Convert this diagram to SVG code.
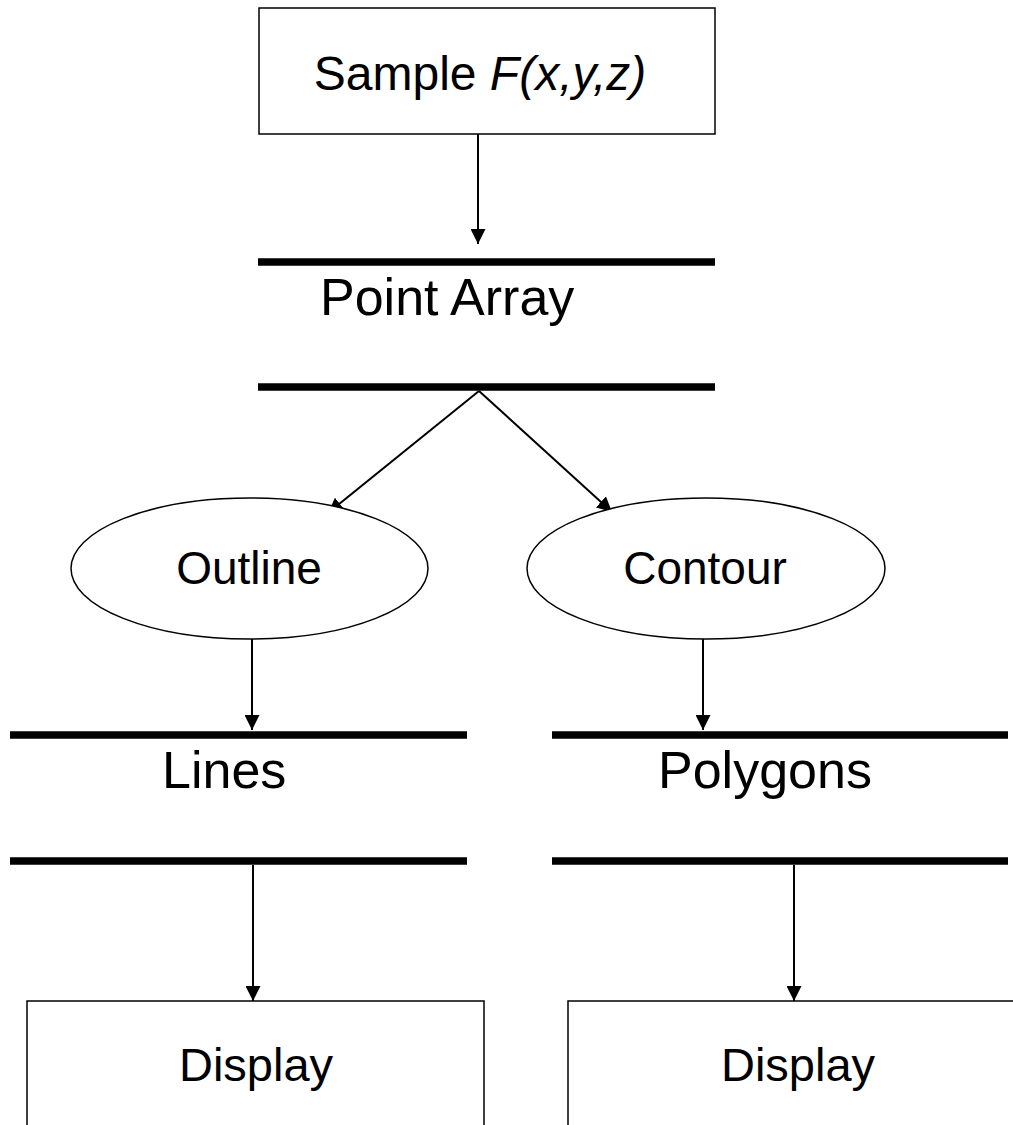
<svg xmlns="http://www.w3.org/2000/svg" width="1013" height="1125" viewBox="0 0 1013 1125">
  <style>
    .box { fill: #fff; stroke: #000; stroke-width: 1.5; }
    .store { stroke: #000; stroke-width: 7.5; }
    .proc { fill: #fff; stroke: #000; stroke-width: 1.5; }
    .conn { stroke: #000; stroke-width: 2; fill: none; marker-end: url(#arrow); }
    text { font-family: "Liberation Sans", Arial, sans-serif; fill: #000; }
    .lbl { font-size: 52px; }
    .small { font-size: 46px; }
  </style>
  <defs>
    <marker id="arrow" markerUnits="userSpaceOnUse" markerWidth="15" markerHeight="15" refX="15" refY="7.5" orient="auto">
      <path d="M0,0 L15,7.5 L0,15 z" fill="#000"/>
    </marker>
  </defs>
  <rect width="1013" height="1125" fill="#fff"/>

  <!-- connectors -->
  <g id="connectors">
    <line class="conn" x1="478" y1="134" x2="478" y2="244"/>
    <line class="conn" x1="479" y1="391" x2="328" y2="513"/>
    <line class="conn" x1="479" y1="391" x2="612" y2="512"/>
    <line class="conn" x1="252" y1="639" x2="252" y2="730"/>
    <line class="conn" x1="703" y1="639" x2="703" y2="730"/>
    <line class="conn" x1="253" y1="865" x2="253" y2="1001"/>
    <line class="conn" x1="794" y1="865" x2="794" y2="1001"/>
  </g>

  <!-- sampling step -->
  <g id="sample">
    <rect class="box" x="259" y="8" width="456" height="126"/>
    <text x="480" y="90" font-size="48" text-anchor="middle">Sample <tspan font-style="italic">F(x,y,z)</tspan></text>
  </g>

  <!-- point array data store -->
  <g id="point-array">
    <line class="store" x1="258" y1="262" x2="715" y2="262"/>
    <line class="store" x1="258" y1="387" x2="715" y2="387"/>
    <text class="lbl" x="320" y="315">Point Array</text>
  </g>

  <!-- processes -->
  <g id="outline">
    <ellipse class="proc" cx="249.5" cy="568.5" rx="178.5" ry="70.5"/>
    <text class="small" x="249" y="584" text-anchor="middle">Outline</text>
  </g>
  <g id="contour">
    <ellipse class="proc" cx="706" cy="568.5" rx="179" ry="70.5"/>
    <text class="small" x="705" y="584" text-anchor="middle">Contour</text>
  </g>

  <!-- output data stores -->
  <g id="lines">
    <line class="store" x1="10" y1="735" x2="467" y2="735"/>
    <line class="store" x1="10" y1="861" x2="467" y2="861"/>
    <text class="lbl" x="162" y="788">Lines</text>
  </g>
  <g id="polygons">
    <line class="store" x1="552" y1="735" x2="1008" y2="735"/>
    <line class="store" x1="552" y1="861" x2="1008" y2="861"/>
    <text class="lbl" x="658" y="788">Polygons</text>
  </g>

  <!-- display sinks -->
  <g id="display-lines">
    <rect class="box" x="27" y="1001" width="457" height="140"/>
    <text x="256" y="1081" font-size="47" text-anchor="middle">Display</text>
  </g>
  <g id="display-polygons">
    <rect class="box" x="568" y="1001" width="470" height="140"/>
    <text x="798" y="1081" font-size="47" text-anchor="middle">Display</text>
  </g>
</svg>
